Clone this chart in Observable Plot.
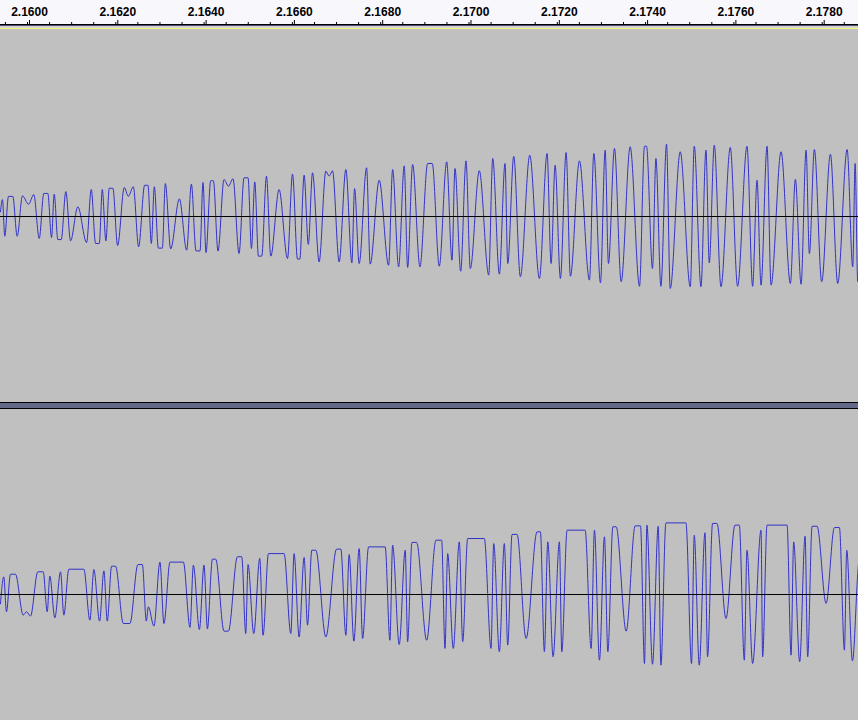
<!DOCTYPE html>
<html><head><meta charset="utf-8">
<script src="https://cdn.jsdelivr.net/npm/d3@7"></script>
<script src="https://cdn.jsdelivr.net/npm/@observablehq/plot@0.6"></script>
<style>
html,body{margin:0;padding:0;background:#c0c0c0;overflow:hidden;width:858px;height:720px}
#chart svg{display:block}
</style></head><body><div id="chart"></div>
<script>
// time axis (seconds) and sample rate
const T0 = 2.16;
const RATE = 44100;
const viewStart = 2.1593885, viewEnd = 2.1788222;
const majorTicks = [2.160, 2.162, 2.164, 2.166, 2.168, 2.170, 2.172, 2.174, 2.176, 2.178];
const minorTicks = d3.range(2.1595, 2.1789, 0.0005);

// channel 1 (left) waveform extrema: [sample offset from 2.16 s, amplitude]
const ch1 = [[-27,0.025],[-25,0.091],[-22.7,-0.106],[-19,0.108],[-14.7,0.108],[-10.3,-0.106],[-5,0.111],[1,0.066],[6.3,0.118],[11.7,-0.118],[16.3,0.124],[20.3,0.124],[24,-0.113],[26.7,0.120],[30.3,-0.124],[33.7,-0.124],[38.3,0.134],[43,-0.131],[50.3,0.052],[59,-0.140],[63.7,0.145],[68,-0.145],[71.7,-0.145],[74.7,0.145],[78.3,-0.131],[81.7,0.152],[85.3,0.152],[90,-0.156],[96.7,0.156],[100.7,0.109],[105.7,0.160],[111,-0.163],[117,0.168],[120.3,0.168],[123.7,-0.145],[126.7,0.160],[130.7,-0.170],[134.7,-0.170],[137.7,0.177],[143,-0.174],[151.7,0.095],[159,-0.181],[163.7,0.174],[168.3,-0.185],[172.3,-0.185],[175.3,0.183],[178.3,-0.194],[183,0.192],[185.7,0.192],
[190.3,-0.186],[196.3,0.199],[200.7,0.163],[205.3,0.203],[211.3,-0.199],[216.3,0.208],[220.3,0.208],[223.7,-0.172],[227,0.186],[230.7,-0.213],[234,-0.213],[238.7,0.217],[243,-0.213],[251.3,0.145],[259.7,-0.226],[264.7,0.228],[269.7,-0.229],[272,-0.229],[276.3,0.222],[280.5,-0.15],[284.7,0.235],[291.3,-0.244],[298,0.244],[301.3,0.217],[304.7,0.246],[311.3,-0.244],[318,0.253],[324,-0.249],[326.7,0.15],[331.3,-0.253],[338.7,0.262],[342.3,-0.256],[351.3,0.195],[360.7,-0.262],[364.7,0.253],[370.7,-0.271],[376.3,0.272],[379.7,-0.274],[384.7,0.280],[392,-0.271],[399.7,0.285],
[404.3,0.285],[411.3,-0.267],[418.7,0.294],[424,-0.235],[427,0.258],[432.7,-0.294],[438,0.299],[442.3,-0.280],[451.3,0.246],[460.7,-0.315],[464.7,0.312],[471.3,-0.310],[477,0.285],[479.7,-0.253],[485.7,0.324],[492.3,-0.324],[501.7,0.330],[511.3,-0.333],[519,0.339],[523,-0.253],[527,0.276],[532.3,-0.333],[538,0.344],[542.3,-0.321],[551.3,0.299],[561.3,-0.342],[565.7,0.339],[572.3,-0.357],[577,0.357],[580.3,-0.253],[586.3,0.366],[593,-0.351],[602,0.375],[611.3,-0.375],[616.3,0.378],
[618.3,0.378],[624.3,-0.280],[627.7,0.312],[632.7,-0.375],[638.3,0.389],[642,-0.387],[652,0.348],[662,-0.378],[666,0.378],[672.7,-0.378],[677.7,0.357],[681,-0.25],[686,0.384],[692.7,-0.378],[702,0.371],[709.3,-0.375],[718.7,0.378],[724.3,-0.375],[728.7,0.195],[732.7,-0.369],[738.7,0.378],[742.7,-0.369],[752.7,0.348],[762,-0.360],[767,0.2],[772.7,-0.364],[777.7,0.357],[781,-0.2],[786,0.360],[793.3,-0.351],[802,0.335],[809.3,-0.360],[818.7,0.360],[824.3,-0.271],[826.7,0.285],[829.3,-0.351],[832,0.1]];

// channel 2 (right) waveform extrema
const ch2 = [[-27,-0.05],[-23.7,0.095],[-21,-0.093],[-17,0.109],[-12,0.109],[-4.3,-0.111],[-1,-0.093],[3,-0.116],[10.3,0.122],[15.7,0.122],[19.7,-0.093],[22.3,0.099],[27.3,-0.125],[33,0.122],[36.3,-0.111],[41.3,0.136],[56.3,0.136],[62.3,-0.138],[66.3,0.134],[72,-0.143],[76.3,0.127],[79.7,-0.143],[84,0.152],[88,0.152],[95.7,-0.156],[102.3,-0.156],[110.3,0.161],[114.7,0.161],[118.7,-0.143],[120.7,-0.066],[126.3,-0.170],[132.3,0.174],[136.3,-0.156],[142.3,0.174],[155.7,0.174],[162.3,-0.177],[165.7,0.158],[171.7,-0.188],[176.3,0.158],[179.7,-0.185],[184.7,0.190],[188,0.190],
[196.3,-0.197],[200.7,-0.197],[209.7,0.203],[214,0.203],[218,-0.210],[220.3,0.161],[226,-0.210],[232,0.194],[235.3,-0.219],[240.7,0.220],[256.3,0.220],[263,-0.210],[266.3,0.220],[271.3,-0.228],[276.3,0.199],[279.7,-0.165],[284,0.238],[288,0.238],[298,-0.228],[308.7,0.244],[313,0.244],[318,-0.219],[321.3,0.215],[326,-0.251],[331.3,0.247],[334.7,-0.237],[340.7,0.256],[357.3,0.256],[362,-0.246],[364.7,0.265],[371.3,-0.269],[377.3,0.238],[379.7,-0.254],[384,0.280],[388.7,0.280],[398.7,-0.246],
[408,0.292],[413.7,0.292],[417,-0.290],[419.7,0.220],[425.3,-0.290],[431.3,0.283],[434.7,-0.254],[439.7,0.301],[456.3,0.301],[463,-0.290],[465.7,0.274],[471.3,-0.308],[476.3,0.274],[479.7,-0.272],[484,0.323],[489,0.323],[498,-0.237],[509,0.337],[512.3,0.337],[516.3,-0.308],[519.7,0.283],[525,-0.335],[531.3,0.283],[533.7,-0.308],[539,0.346],[557,0.346],[563,-0.290],[566.3,0.346],[571.3,-0.353],[576.3,0.310],[579.7,-0.308],[584.7,0.364],[588,0.364],[598,-0.197],[607,0.369],[612.3,0.369],[616.3,-0.371],
[618.7,0.373],[624.3,-0.375],[630,0.367],[632.7,-0.380],[637.7,0.385],[657.7,0.385],[663.3,-0.371],[666,0.319],[671,-0.380],[676.7,0.332],[679.3,-0.335],[684.3,0.382],[688.7,0.382],[697.7,-0.129],[706.7,0.373],[711,0.373],[716,-0.353],[718.7,0.238],[724.3,-0.371],[732.7,0.346],[734.3,-0.335],[738.7,0.373],[758.7,0.373],[762.7,-0.326],[765.3,0.283],[771.3,-0.362],[776.7,0.314],[779.3,-0.335],[783.7,0.367],[788.7,0.367],[797.7,-0.048],[806,0.360],[811,0.360],[816,-0.299],[818.3,0.238],[824,-0.357],[829.3,0.113],[832,0.3]];

// layout of the two stacked tracks in amplitude units (track half-height = 1)
const CH2_OFFSET = -378 / 186;
const rows = [
  ...ch1.map(([n, v]) => ({t: T0 + n / RATE, y: v, ch: "L"})),
  ...ch2.map(([n, v]) => ({t: T0 + n / RATE, y: v + CH2_OFFSET, ch: "R"}))
];

const bg = "linear-gradient(to bottom," +
  "#f8f8fc 0px,#f8f8fc 24px,#000 24px,#000 25px,#4a4e66 25px,#4a4e66 26px," +
  "#d4d4d4 26px,#d4d4d4 28px,#f4f478 28px,#f4f478 29px," +
  "#c0c0c0 29px,#c0c0c0 402px,#000 402px,#000 403px,#646a8a 403px,#646a8a 408px," +
  "#000 408px,#000 409px,#c0c0c0 409px)";

const chart = Plot.plot({
  width: 858, height: 720,
  marginTop: 24, marginBottom: 0, marginLeft: 0, marginRight: 0,
  style: {background: bg, fontFamily: "'Liberation Sans', Arial, sans-serif", overflow: "hidden"},
  x: {type: "linear", domain: [viewStart, viewEnd], range: [0, 858]},
  y: {domain: [-504 / 186, 192 / 186], axis: null},
  marks: [
    Plot.axisX({anchor: "top", ticks: minorTicks, tickSize: 3, tickFormat: null, text: null, label: null, stroke: "#000"}),
    Plot.axisX({anchor: "top", ticks: majorTicks, tickSize: 5, tickPadding: 4, label: null,
      tickFormat: d3.format(".4f"), fontSize: 12, fontWeight: "bold", fill: "#000", stroke: "#000", dx: 2}),
    Plot.line(rows, {x: "t", y: "y", z: "ch", stroke: "#3232c8", strokeWidth: 1, curve: "monotone-x"}),
    Plot.ruleY([0, CH2_OFFSET], {stroke: "#000", strokeWidth: 1})
  ]
});
document.getElementById("chart").appendChild(chart);
</script></body></html>
